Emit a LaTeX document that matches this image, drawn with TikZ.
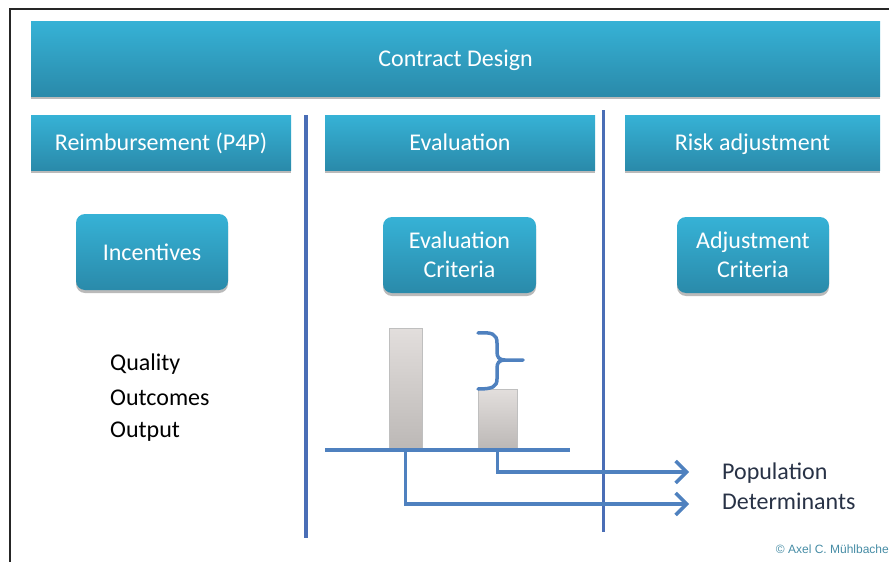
\documentclass[tikz,border=0pt]{standalone}
\usepackage{fontspec}
\setmainfont{Carlito}
\newfontfamily\copyfont{Liberation Sans}
\usetikzlibrary{shadows,arrows.meta}
\definecolor{boxtop}{RGB}{54,178,214}
\definecolor{boxbot}{RGB}{42,138,170}
\definecolor{divblue}{RGB}{74,110,182}
\definecolor{arrblue}{RGB}{79,129,191}
\definecolor{bartop}{RGB}{226,222,220}
\definecolor{barbot}{RGB}{188,184,182}
\definecolor{copyc}{RGB}{70,140,165}
\definecolor{labc}{RGB}{40,50,70}
\tikzset{
  bluebox/.style={top color=boxtop, bottom color=boxbot, text=white,
    font=\fontsize{24}{29}\selectfont, align=center, inner sep=0pt,
    drop shadow={shadow xshift=0pt, shadow yshift=-3pt, fill=black!45, opacity=0.6}},
  barbox/.style={rectangle, bluebox, sharp corners, text height=19pt, text depth=4pt},
  critbox/.style={bluebox, rounded corners=9pt},
  divider/.style={draw=divblue, line width=3.5pt},
  axisline/.style={draw=arrblue, line width=3.5pt},
  arrowline/.style={draw=arrblue, line width=3.5pt, -{Straight Barb[length=11pt,width=22pt]}},
  bar/.style={draw=black!25, line width=0.6pt, top color=bartop, bottom color=barbot, inner sep=0pt},
  plaintext/.style={font=\fontsize{24}{29}\selectfont, inner sep=0pt, anchor=west},
}
\begin{document}
\begin{tikzpicture}[x=1pt,y=-1pt]
\useasboundingbox (0,0) rectangle (889,562);
% outer frame
\draw[line width=2.5pt, black!85] (10,575) -- (10,9) -- (900,9);
% header boxes
\node[barbox, minimum width=849pt, minimum height=75pt] (cd) at (455.5,58.5) {Contract Design};
\node[barbox, minimum width=260pt, minimum height=55pt] (reimb) at (161,142.5) {Reimbursement (P4P)};
\node[barbox, minimum width=270pt, minimum height=55pt] (eval) at (460,142.5) {Evaluation};
\node[barbox, minimum width=255pt, minimum height=55pt] (risk) at (752.5,142.5) {Risk adjustment};
% criteria boxes
\node[critbox, minimum width=152pt, minimum height=76pt] (inc) at (152,252) {Incentives};
\node[critbox, minimum width=153pt, minimum height=76pt] (evc) at (459.5,255) {Evaluation\\Criteria};
\node[critbox, minimum width=152pt, minimum height=76pt] (adc) at (753,255) {Adjustment\\Criteria};
% dividers
\coordinate (d1t) at (306,115);
\coordinate (d1b) at (306,538);
\coordinate (d2t) at (603.5,110);
\coordinate (d2b) at (603.5,532);
\draw[divider] (d1t) -- (d1b);
\draw[divider] (d2t) -- (d2b);
% left list
\node[plaintext] (q) at (110,364) {Quality};
\node[plaintext] (oc) at (110,398) {Outcomes};
\node[plaintext] (op) at (110,432) {Output};
% bars
\node[bar, minimum width=33pt, minimum height=120pt, anchor=south] (bar1) at (405.5,449) {};
\node[bar, minimum width=39pt, minimum height=59pt, anchor=south] (bar2) at (497.5,449) {};
% axis
\coordinate (axl) at (325,450);
\coordinate (axr) at (570,450);
\draw[axisline] (axl) -- (axr);
% brace
\draw[draw=arrblue, line width=3.5pt, line cap=round]
  (478,333) .. controls (492,332) and (497,334) .. (497,343) -- (497,352)
  .. controls (497,357) and (499,360) .. (505,360) -- (523,360)
  (505,360) .. controls (499,360) and (497,363) .. (497,368) -- (497,379)
  .. controls (497,387) and (492,389) .. (478,389);
% labels right
\node[plaintext, text=labc] (pop) at (722,473) {Population};
\node[plaintext, text=labc] (det) at (722,501) {Determinants};
\coordinate (popa) at (689,472);
\coordinate (deta) at (689,504);
\draw[arrowline] (bar2.south) |- (popa);
\draw[arrowline] (bar1.south) |- (deta);
% copyright
\node[font=\copyfont\fontsize{12}{14}\selectfont, text=copyc, anchor=east, inner sep=0pt] (copy) at (889,549) {© Axel C. Mühlbache};
\end{tikzpicture}
\end{document}
